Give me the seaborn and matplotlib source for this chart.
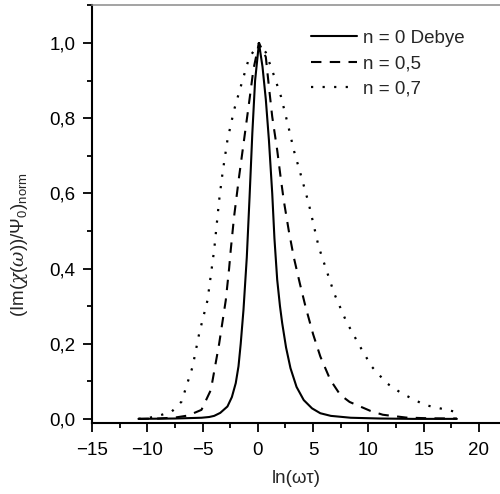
import matplotlib
matplotlib.use("Agg")
import matplotlib.pyplot as plt
import seaborn as sns
import pandas as pd
from matplotlib.ticker import MultipleLocator, FixedLocator

# ---- data ----
x_debye = [-10.8, -7.5, -5.1, -4.4, -3.95, -3.4, -2.75, -2.35, -2.0, -1.75, -1.55, -1.3,
           -1.0, -0.75, -0.5, -0.25, 0.1, 0.42, 0.72, 1.0, 1.3, 1.5, 1.75, 2.0, 2.2, 2.55,
           2.95, 3.5, 4.15, 4.9, 5.65, 6.6, 8.4, 11.0, 14.0, 18.0]
y_debye = [0.000, 0.001, 0.003, 0.005, 0.008, 0.016, 0.033, 0.058, 0.095, 0.140, 0.200, 0.290,
           0.430, 0.590, 0.760, 0.900, 1.000, 0.937, 0.850, 0.742, 0.600, 0.480, 0.370, 0.300, 0.255, 0.190,
           0.135, 0.085, 0.050, 0.028, 0.015, 0.008, 0.003, 0.001, 0.000, 0.000]

x_n05 = [-10.8, -9.0, -7.5, -6.3, -5.1, -4.25, -3.5, -2.9, -2.6, -2.45, -2.15, -1.7, -1.25,
         -0.8, -0.4, 0.1, 0.72, 1.0, 1.3, 1.75, 2.05, 2.35, 2.8, 3.25, 3.8, 4.3, 5.0, 5.65,
         6.55, 7.45, 8.3, 9.25, 10.2, 11.3, 13.4, 15.5, 18.0]
y_n05 = [0.000, 0.001, 0.0035, 0.009, 0.024, 0.077, 0.200, 0.316, 0.400, 0.450, 0.538, 0.644, 0.742,
         0.840, 0.930, 1.000, 0.963, 0.884, 0.804, 0.715, 0.645, 0.580, 0.500, 0.430, 0.360, 0.300, 0.225, 0.166,
         0.104, 0.064, 0.045, 0.033, 0.021, 0.011, 0.0035, 0.0015, 0.001]

x_n07 = [-10.8, -9.8, -8.9, -7.8, -6.9, -5.9, -5.3, -4.55, -3.95, -3.8, -3.5, -3.2, -2.75,
         -2.15, -1.55, -0.8, 0.1, 0.72, 1.5, 2.1, 2.8, 3.25, 3.85, 4.6, 5.5, 6.9, 8.0,
         9.25, 10.3, 11.65, 13.0, 15.1, 18.0]
y_n07 = [0.000, 0.003, 0.009, 0.019, 0.046, 0.139, 0.228, 0.316, 0.450, 0.494, 0.582, 0.653, 0.742,
         0.822, 0.884, 0.960, 1.000, 0.975, 0.910, 0.857, 0.773, 0.715, 0.653, 0.573, 0.458, 0.334, 0.259,
         0.192, 0.139, 0.095, 0.068, 0.037, 0.018]

labels = ["n = 0 Debye", "n = 0,5", "n = 0,7"]
x_ticks = [-15, -10, -5, 0, 5, 10, 15, 20]
y_ticks = [0.0, 0.2, 0.4, 0.6, 0.8, 1.0]
y_ticklabels = ["0,0", "0,2", "0,4", "0,6", "0,8", "1,0"]
x_ticklabels = ["\u221215", "\u221210", "\u22125", "0", "5", "10", "15", "20"]

sns.set_style("ticks")
plt.rcParams["font.family"] = ["Liberation Sans", "DejaVu Sans"]
plt.rcParams["mathtext.fontset"] = "custom"
plt.rcParams["mathtext.rm"] = "Liberation Sans"
plt.rcParams["mathtext.it"] = "DejaVu Serif:italic"
plt.rcParams["mathtext.cal"] = "DejaVu Serif:italic"

fig = plt.figure(figsize=(5.0, 4.94), dpi=100)
ax = fig.add_axes([0.184, 0.1437, 0.816, 0.846])

df1 = pd.DataFrame({"x": x_debye, "y": y_debye})
df2 = pd.DataFrame({"x": x_n05, "y": y_n05})
df3 = pd.DataFrame({"x": x_n07, "y": y_n07})

sns.lineplot(data=df1, x="x", y="y", ax=ax, color="black", lw=1.5,
             label=labels[0], sort=False, estimator=None)
sns.lineplot(data=df2, x="x", y="y", ax=ax, color="black", lw=1.5,
             linestyle=(0, (5, 4)), label=labels[1], sort=False, estimator=None)
sns.lineplot(data=df3, x="x", y="y", ax=ax, color="black", lw=1.6,
             linestyle=(0, (1, 4.2)), label=labels[2], sort=False, estimator=None)

ax.set_xlim(-15, 21.9)
ax.set_ylim(-0.011, 1.101)

ax.xaxis.set_major_locator(FixedLocator(x_ticks))
ax.set_xticklabels(x_ticklabels)
ax.xaxis.set_minor_locator(MultipleLocator(2.5))
ax.yaxis.set_major_locator(FixedLocator(y_ticks))
ax.set_yticklabels(y_ticklabels)
ax.yaxis.set_minor_locator(MultipleLocator(0.1))

ax.tick_params(which="major", direction="out", length=6.8, width=1.3,
               labelsize=13.5, color="black", pad=5, labelcolor="black")
ax.tick_params(axis="x", which="major", pad=7)
ax.tick_params(which="minor", direction="out", length=3.6, width=1.3, color="black")
ax.tick_params(top=False, right=False, which="both")

for side in ["left", "bottom"]:
    ax.spines[side].set_color("black")
    ax.spines[side].set_linewidth(1.5)
ax.spines["top"].set_color("#8a8a8a")
ax.spines["top"].set_linewidth(1.1)
ax.spines["right"].set_visible(False)

ax.set_xlabel("ln(\u03c9\u03c4)", fontsize=13.5)
ax.xaxis.set_label_coords(0.5, -0.113)
ax.set_ylabel(r"(Im($\mathit{\chi}$($\mathit{\omega}$))/$\mathit{\Psi}_{0}$)$_{\mathrm{norm}}$",
              fontsize=13.5)
ax.yaxis.set_label_coords(-0.152, 0.426)

leg = ax.legend(loc="upper left", bbox_to_anchor=(0.537, 0.941), frameon=False,
                fontsize=13.5, handlelength=2.45, handletextpad=0.3,
                labelspacing=0.45, borderpad=0, borderaxespad=0)

fig.savefig("out.png", dpi=100)
